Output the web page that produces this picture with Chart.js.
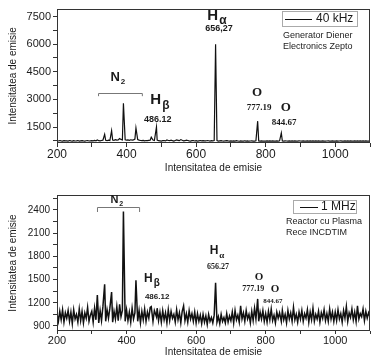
<!DOCTYPE html>
<html>
<head>
<meta charset="utf-8">
<script src="https://cdn.jsdelivr.net/npm/chart.js@4.4.0/dist/chart.umd.min.js"></script>
<style>
    html, body { margin: 0; padding: 0; background: #fff; }
    .panel { position: relative; width: 377px; height: 180px; }
</style>
</head>
<body>
<div class="panel"><canvas id="chart40k" width="377" height="180"></canvas></div>
<div class="panel"><canvas id="chart1M" width="377" height="180"></canvas></div>
<script>
// Wavelengths (nm) shared by both spectra
const wavelengths = [
    200, 204, 208, 212, 216, 220, 224, 228, 232, 236, 240, 244, 248, 252, 256, 260, 264, 268, 272, 276, 280, 284, 288, 292, 296,
    300, 304, 308, 312, 316, 320, 324, 328, 332, 337, 340, 344, 348, 352, 357, 360, 364, 368, 372, 376, 380, 384, 388, 391, 396,
    400, 404, 408, 412, 416, 420, 424, 427, 432, 436, 440, 444, 448, 452, 456, 460, 464, 468, 471, 476, 480, 486, 488, 492, 496,
    500, 504, 508, 512, 516, 520, 524, 528, 532, 536, 540, 544, 548, 552, 556, 560, 564, 568, 572, 576, 580, 584, 588, 592, 596,
    600, 604, 608, 612, 616, 620, 624, 628, 632, 636, 640, 644, 648, 652, 656, 660, 664, 668, 672, 676, 680, 684, 688, 692, 696,
    700, 704, 708, 712, 716, 720, 724, 728, 732, 736, 740, 744, 748, 752, 756, 760, 764, 768, 772, 777, 780, 784, 788, 792, 796,
    800, 804, 808, 812, 816, 820, 824, 828, 832, 836, 840, 845, 848, 852, 856, 860, 864, 868, 872, 876, 880, 884, 888, 892, 896,
    900, 904, 908, 912, 916, 920, 924, 928, 932, 936, 940, 944, 948, 952, 956, 960, 964, 968, 972, 976, 980, 984, 988, 992, 996,
    1000, 1004, 1008, 1012, 1016, 1020, 1024, 1028, 1032, 1036, 1040, 1044, 1048, 1052, 1056, 1060, 1064, 1068, 1072, 1076, 1080, 1084, 1088, 1092, 1096,
    1100
];

// 40 kHz - Generator Diener Electronics Zepto
const intensity40kHz = [
    760, 745, 770, 750, 740, 765, 748, 755, 742, 770, 750, 738, 760, 745, 752, 768, 740, 755, 762, 748, 740, 758, 770, 745, 752,
    760, 750, 772, 755, 800, 760, 748, 770, 790, 1100, 780, 760, 790, 770, 1300, 800, 780, 820, 790, 800, 880, 830, 800, 2790, 810,
    790, 800, 780, 810, 790, 800, 850, 1450, 820, 790, 770, 760, 780, 750, 770, 760, 780, 790, 950, 800, 770, 1500, 790, 760, 750,
    740, 760, 770, 750, 800, 770, 760, 790, 760, 740, 770, 800, 780, 760, 820, 780, 750, 760, 790, 770, 750, 740, 760, 770, 745,
    760, 740, 755, 770, 748, 762, 750, 745, 770, 758, 742, 760, 750, 765, 6000, 770, 740, 752, 760, 745, 738, 755, 762, 748, 740,
    748, 735, 752, 740, 760, 745, 730, 750, 742, 738, 755, 740, 748, 732, 745, 750, 740, 735, 752, 1820, 745, 738, 750, 742, 735,
    740, 752, 735, 745, 738, 750, 742, 735, 748, 740, 755, 1180, 742, 735, 750, 745, 738, 752, 740, 745, 735, 748, 742, 738, 750,
    745, 738, 752, 740, 735, 748, 742, 750, 736, 745, 740, 752, 738, 745, 740, 735, 750, 742, 738, 745, 752, 740, 736, 748, 742,
    740, 748, 735, 745, 752, 738, 742, 750, 736, 745, 740, 748, 735, 742, 750, 738, 745, 740, 752, 736, 745, 740, 748, 738, 742,
    745
];

// 1 MHz - Reactor cu Plasma Rece INCDTIM
const intensity1MHz = [
    1060, 960, 1090, 980, 1110, 950, 1070, 1000, 1100, 960, 1080, 930, 1110, 990, 1050, 950, 1120, 970, 1090, 940, 1070, 1000, 1140, 960, 1040,
    1090, 950, 1130, 980, 1300, 940, 1100, 970, 1150, 1440, 960, 1110, 1000, 1130, 1340, 950, 1090, 990, 1150, 970, 1180, 1020, 1100, 2380, 960,
    1110, 970, 1080, 950, 1130, 990, 1070, 1490, 960, 1100, 940, 1090, 980, 1120, 960, 1080, 1000, 1140, 1150, 960, 1100, 1020, 1130, 970, 1080,
    950, 1100, 980, 1070, 940, 1110, 970, 1090, 1000, 1050, 950, 1110, 980, 1070, 940, 1090, 1160, 970, 1060, 950, 1100, 990, 1060, 960, 1080,
    940, 1060, 960, 1040, 930, 1050, 950, 1030, 920, 1050, 960, 1010, 940, 1040, 1460, 950, 1020, 930, 1050, 960, 1010, 940, 1060, 950, 1030,
    970, 1080, 940, 1100, 980, 1040, 950, 1160, 990, 1070, 960, 1100, 990, 1050, 940, 1090, 970, 1130, 990, 1250, 960, 1080, 990, 1100, 960,
    1060, 950, 1090, 980, 1120, 970, 1040, 940, 1080, 1000, 1070, 960, 1100, 980, 1050, 940, 1100, 990, 1070, 960, 1140, 980, 1050, 950, 1080,
    990, 1100, 960, 1060, 1000, 1110, 950, 1080, 980, 1130, 960, 1050, 990, 1090, 950, 1070, 1000, 1110, 970, 1060, 960, 1120, 990, 1080, 960,
    1080, 970, 1110, 990, 1060, 950, 1100, 1000, 1150, 960, 1070, 1010, 1120, 980, 1080, 960, 1160, 990, 1060, 1020, 1120, 970, 1090, 1000, 1070,
    1020
];

// axis ticks (every tick drawn, only some labelled)
const xTickValues = [200, 300, 400, 500, 600, 700, 800, 900, 1000, 1100];
const xTickLabels = [200, 400, 600, 800, 1000];
const yTickValues40kHz = [750, 1500, 2250, 3000, 3750, 4500, 5250, 6000, 6750, 7500];
const yTickLabels40kHz = [1500, 3000, 4500, 6000, 7500];
const yTickValues1MHz = [900, 1050, 1200, 1350, 1500, 1650, 1800, 1950, 2100, 2250, 2400, 2550];
const yTickLabels1MHz = [900, 1200, 1500, 1800, 2100, 2400];

const AXIS_TITLE = "Intensitatea de emisie";
const SANS = "'Liberation Sans', Arial, sans-serif";
const SERIF = "'Liberation Serif', 'Times New Roman', serif";

// annotations (x in nm, y in intensity units)
const NOTES_40K = {
    labels: [
        { text: "N", sub: "2", x: 375, y: 4200, font: "bold 13px " + SANS, subFont: "bold 8px " + SANS },
        { text: "H", sub: "β", x: 496, y: 2960, font: "bold 15px " + SANS, subFont: "bold 12px " + SANS },
        { text: "486.12", x: 490, y: 1930, font: "bold 9px " + SANS },
        { text: "H", sub: "α", x: 660, y: 7550, font: "bold 15px " + SANS, subFont: "bold 12px " + SANS },
        { text: "656,27", x: 666, y: 6850, font: "bold 9px " + SANS },
        { text: "O", x: 775, y: 3390, font: "bold 13px " + SERIF },
        { text: "777.19", x: 781, y: 2530, font: "bold 9px " + SERIF },
        { text: "O", x: 858, y: 2580, font: "bold 13px " + SERIF },
        { text: "844.67", x: 853, y: 1720, font: "bold 9px " + SERIF },
    ],
    bracket: { x1: 318, x2: 444, y: 3340, yEnd: 3176 },
    legend: { name: "40 kHz", lines: ["Generator Diener", "Electronics Zepto"],
              box: [88, 2, 75, 15], line: [85, 58, 10], textX: 54, textLeft: 87, textTop: 27 },
};

const NOTES_1M = {
    labels: [
        { text: "N", sub: "2", x: 372, y: 2530, font: "bold 11px " + SANS, subFont: "bold 7px " + SANS },
        { text: "H", sub: "β", x: 473, y: 1508, font: "bold 12px " + SANS, subFont: "bold 10px " + SANS },
        { text: "486.12", x: 488, y: 1275, font: "bold 8px " + SANS },
        { text: "H", sub: "α", x: 660, y: 1870, font: "bold 12px " + SANS, subFont: "bold 9px " + SERIF },
        { text: "656.27", x: 663, y: 1663, font: "bold 8px " + SERIF },
        { text: "O", x: 781, y: 1534, font: "bold 11px " + SERIF },
        { text: "777.19", x: 764, y: 1378, font: "bold 8px " + SERIF },
        { text: "O", x: 827, y: 1378, font: "bold 11px " + SERIF },
        { text: "844.67", x: 821, y: 1223, font: "bold 7px " + SERIF },
    ],
    bracket: { x1: 315, x2: 436, y: 2439, yEnd: 2374 },
    legend: { name: "1 MHz", lines: ["Reactor cu Plasma", "Rece INCDTIM"],
              box: [77, 5, 63, 13], line: [70, 52, 11.5], textX: 49, textLeft: 84, textTop: 27 },
};

// frame + peak labels + legend box
const spectrumDecor = {
    id: "spectrumDecor",
    afterDatasetsDraw(chart, args, opts) {
        const { ctx, chartArea: a, scales: { x, y } } = chart;
        ctx.save();

        ctx.strokeStyle = "#333";
        ctx.lineWidth = 1;
        ctx.strokeRect(Math.round(a.left) + 0.5, Math.round(a.top) + 0.5,
            Math.round(a.width) - 1, Math.round(a.height) - 1);

        ctx.fillStyle = "#1a1a1a";
        ctx.textBaseline = "middle";
        opts.labels.forEach(l => {
            const px = x.getPixelForValue(l.x);
            const py = y.getPixelForValue(l.y);
            ctx.font = l.font;
            const w = ctx.measureText(l.text).width;
            let sw = 0;
            if (l.sub) {
                ctx.font = l.subFont;
                sw = ctx.measureText(l.sub).width + 1;
            }
            const left = px - (w + sw) / 2;
            ctx.font = l.font;
            ctx.textAlign = "left";
            ctx.fillText(l.text, left, py);
            if (l.sub) {
                ctx.font = l.subFont;
                ctx.fillText(l.sub, left + w + 1, py + parseInt(l.font.match(/(\d+)px/)[1]) * 0.35);
            }
        });

        // N2 bracket
        const b = opts.bracket;
        const bx1 = x.getPixelForValue(b.x1), bx2 = x.getPixelForValue(b.x2);
        const by = y.getPixelForValue(b.y), byEnd = y.getPixelForValue(b.yEnd);
        ctx.strokeStyle = "#777";
        ctx.beginPath();
        ctx.moveTo(bx1 + 0.5, byEnd);
        ctx.lineTo(bx1 + 0.5, Math.round(by) + 0.5);
        ctx.lineTo(bx2 + 0.5, Math.round(by) + 0.5);
        ctx.lineTo(bx2 + 0.5, byEnd);
        ctx.stroke();

        // legend
        const lg = opts.legend;
        ctx.strokeStyle = "#aaa";
        ctx.strokeRect(Math.round(a.right - lg.box[0]) + 0.5, Math.round(a.top + lg.box[1]) + 0.5, lg.box[2], lg.box[3]);
        ctx.strokeStyle = "#111";
        ctx.beginPath();
        ctx.moveTo(a.right - lg.line[0], Math.round(a.top + lg.line[2]) + 0.5);
        ctx.lineTo(a.right - lg.line[1], Math.round(a.top + lg.line[2]) + 0.5);
        ctx.stroke();
        ctx.font = "12px " + SANS;
        ctx.textAlign = "left";
        ctx.fillText(lg.name, a.right - lg.textX, a.top + lg.line[2]);
        ctx.font = "9px " + SANS;
        ctx.fillStyle = "#222";
        lg.lines.forEach((t, i) => {
            ctx.fillText(t, a.right - lg.textLeft, a.top + lg.textTop + i * 11);
        });

        ctx.restore();
    }
};

function buildChart(canvasId, values, yMin, yMax, yTicks, yLabels, notes, layout) {
    return new Chart(document.getElementById(canvasId), {
        type: "line",
        data: {
            datasets: [{
                data: wavelengths.map((w, i) => ({ x: w, y: values[i] })),
                borderColor: "#111",
                borderWidth: layout.lineWidth,
                pointRadius: 0,
                tension: 0,
                fill: false,
            }]
        },
        options: {
            responsive: false,
            animation: false,
            layout: { padding: { left: 0, top: layout.top, right: 7, bottom: 0 } },
            plugins: {
                legend: { display: false },
                tooltip: { enabled: false },
                spectrumDecor: notes,
            },
            scales: {
                x: {
                    type: "linear",
                    min: 200,
                    max: 1100,
                    afterBuildTicks: s => { s.ticks = xTickValues.map(v => ({ value: v })); },
                    afterFit: s => { s.height = layout.xHeight; },
                    border: { display: false },
                    grid: { drawOnChartArea: false, tickLength: layout.xTick, color: "#333" },
                    ticks: {
                        autoSkip: false, maxRotation: 0, padding: 0, color: "#1a1a1a",
                        font: { family: SANS, size: layout.xFont },
                        callback: v => xTickLabels.includes(v) ? String(v) : "",
                    },
                    title: {
                        display: true, text: AXIS_TITLE, color: "#1a1a1a",
                        font: { family: SANS, size: 10 },
                        padding: { top: 0, bottom: layout.titlePad },
                    },
                },
                y: {
                    min: yMin,
                    max: yMax,
                    afterBuildTicks: s => { s.ticks = yTicks.map(v => ({ value: v })); },
                    afterFit: s => { s.width = 57; },
                    border: { display: false },
                    grid: { drawOnChartArea: false, tickLength: 4, color: "#333" },
                    ticks: {
                        autoSkip: false, padding: layout.yPad, color: "#1a1a1a",
                        font: { family: SANS, size: layout.yFont },
                        callback: v => yLabels.includes(v) ? String(v) : "",
                    },
                    title: {
                        display: true, text: AXIS_TITLE, color: "#1a1a1a",
                        font: { family: SANS, size: 10 },
                        padding: { top: 7, bottom: 0 },
                    },
                },
            },
        },
        plugins: [spectrumDecor],
    });
}

buildChart("chart40k", intensity40kHz, 635, 7930, yTickValues40kHz, yTickLabels40kHz, NOTES_40K,
    { top: 8, xHeight: 37, xTick: 4, xFont: 12, titlePad: 6, yPad: 2, yFont: 11, lineWidth: 1.2 });
buildChart("chart1M", intensity1MHz, 835, 2594, yTickValues1MHz, yTickLabels1MHz, NOTES_1M,
    { top: 15, xHeight: 29, xTick: 3, xFont: 11, titlePad: 2, yPad: 3, yFont: 10, lineWidth: 1.5 });
</script>
</body>
</html>
